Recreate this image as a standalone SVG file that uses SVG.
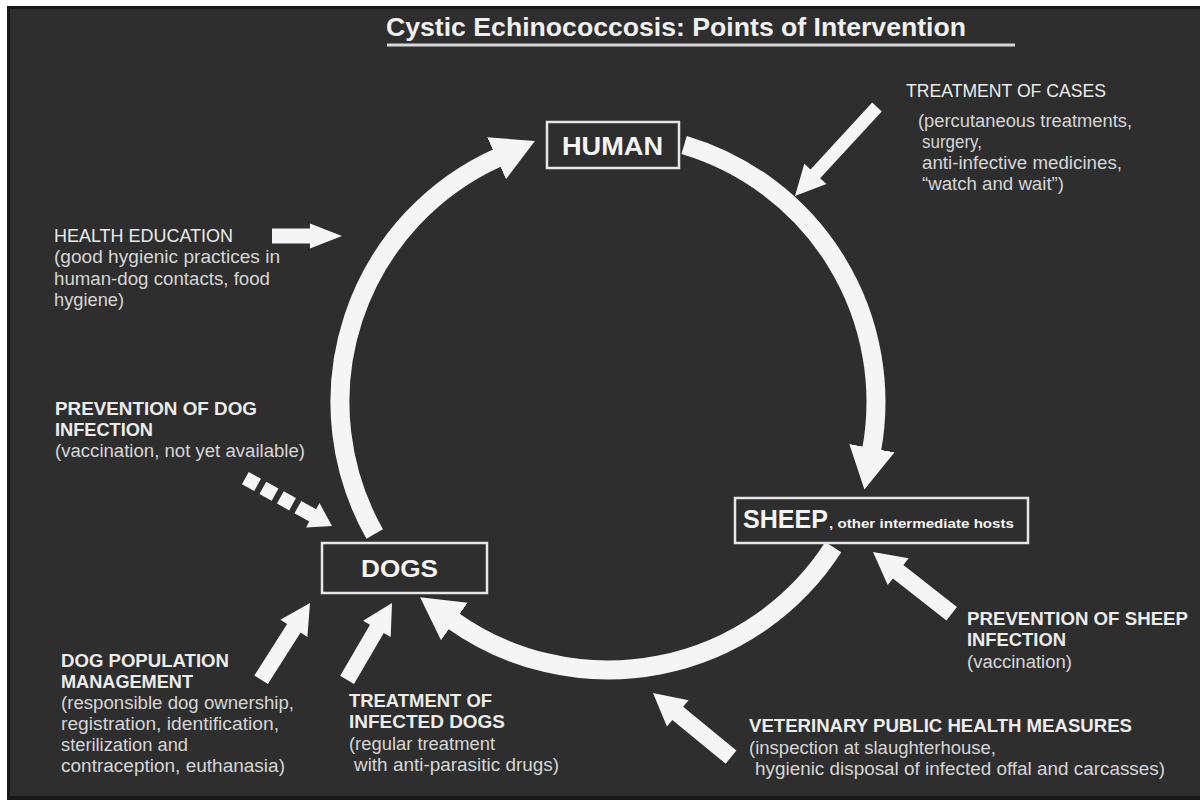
<svg xmlns="http://www.w3.org/2000/svg" width="1200" height="800" viewBox="0 0 1200 800">
<defs>
<style>
text{font-family:"Liberation Sans",Arial,sans-serif}
.t{font-size:26px;font-weight:bold;fill:#f0f0f0}
.n{font-weight:bold;fill:#f4f4f4}
.h{font-size:18px;font-weight:bold;fill:#ececec}
.h2{font-size:18px;fill:#ececec}
.b{font-size:18px;fill:#d6d6d6}
.box{fill:none;stroke:#e6e6e6;stroke-width:2.5}
.arc{fill:none;stroke:#f5f5f5;stroke-width:19}
.ar{fill:#f5f5f5}
</style>
<marker id="ah" markerUnits="userSpaceOnUse" markerWidth="46" markerHeight="50" viewBox="0 -25 46 50" refX="2" refY="0" orient="auto">
<path d="M0,-23 L42,0 L0,23 Z" fill="#f5f5f5"/>
</marker>
</defs>
<rect x="0" y="0" width="1200" height="800" fill="#ffffff"/>
<rect x="7" y="6" width="1193" height="794" fill="#181818"/>
<rect x="10" y="9" width="1190" height="787" fill="#2e2e2e"/>

<g id="title">
<text class="t" x="386" y="36" textLength="580" lengthAdjust="spacingAndGlyphs">Cystic Echinococcosis: Points of Intervention</text>
<rect x="387" y="43.5" width="628" height="3" fill="#d8d8d8"/>
</g>

<g id="connectors">
<path class="arc" d="M 374.7 534 A 268 268 0 0 1 498.4 157.4" marker-end="url(#ah)"/>
<path class="arc" d="M 684.1 145 A 268 268 0 0 1 871.6 450.2" marker-end="url(#ah)"/>
<path class="arc" d="M 833.3 547.2 A 268 268 0 0 1 452.7 620.4" marker-end="url(#ah)"/>
<polygon class="ar" points="0,0 -30,-15 -30,-6.5 -121,-6.5 -121,6.5 -30,6.5 -30,15" transform="translate(795,196) rotate(132.65)"/>
<polygon class="ar" points="0,0 -32,-12.5 -32,-7.5 -70,-7.5 -70,7.5 -32,7.5 -32,12.5" transform="translate(342,236)"/>
<g transform="translate(332,526) rotate(28.9)">
<line x1="-99" y1="0" x2="-21" y2="0" stroke="#f5f5f5" stroke-width="14" stroke-dasharray="14 6 14 6 14 6 20"/>
<polygon class="ar" points="0,0 -22,-14 -22,14"/>
</g>
<polygon class="ar" points="0,0 -32,-17 -32,-8.5 -100,-8.5 -100,8.5 -32,8.5 -32,17" transform="translate(873,552) rotate(-141.9)"/>
<polygon class="ar" points="0,0 -32,-17 -32,-8.5 -101,-8.5 -101,8.5 -32,8.5 -32,17" transform="translate(653,693) rotate(-140.6)"/>
<polygon class="ar" points="0,0 -30,-16 -30,-8 -91,-8 -91,8 -30,8 -30,16" transform="translate(310,603) rotate(-57.5)"/>
<polygon class="ar" points="0,0 -30,-16 -30,-8 -89,-8 -89,8 -30,8 -30,16" transform="translate(392,603) rotate(-59.7)"/>
</g>

<g id="human">
<rect class="box" x="547" y="122" width="132" height="46"/>
<text class="n" x="562" y="155" font-size="26" textLength="101" lengthAdjust="spacingAndGlyphs">HUMAN</text>
</g>

<g id="sheep">
<rect class="box" x="735" y="498" width="293" height="45"/>
<text class="n" x="743" y="528" font-size="25" textLength="85" lengthAdjust="spacingAndGlyphs">SHEEP</text>
<text class="n" x="829" y="528" font-size="13.5" textLength="185" lengthAdjust="spacingAndGlyphs">, other intermediate hosts</text>
</g>

<g id="dogs">
<rect class="box" x="322" y="543" width="165" height="50"/>
<text class="n" x="361" y="577" font-size="23" textLength="77" lengthAdjust="spacingAndGlyphs">DOGS</text>
</g>

<g id="treatment-of-cases">
<text class="h2" x="906" y="97" textLength="200" lengthAdjust="spacingAndGlyphs">TREATMENT OF CASES</text>
<text class="b" x="918" y="127" textLength="214" lengthAdjust="spacingAndGlyphs">(percutaneous treatments,</text>
<text class="b" x="922" y="148" textLength="60" lengthAdjust="spacingAndGlyphs">surgery,</text>
<text class="b" x="922" y="169" textLength="200" lengthAdjust="spacingAndGlyphs">anti-infective medicines,</text>
<text class="b" x="922" y="190" textLength="142" lengthAdjust="spacingAndGlyphs">“watch and wait”)</text>
</g>

<g id="health-education">
<text class="h2" x="54" y="242" textLength="179" lengthAdjust="spacingAndGlyphs">HEALTH EDUCATION</text>
<text class="b" x="54" y="263" textLength="226" lengthAdjust="spacingAndGlyphs">(good hygienic practices in</text>
<text class="b" x="54" y="285" textLength="216" lengthAdjust="spacingAndGlyphs">human-dog contacts, food</text>
<text class="b" x="54" y="306" textLength="70" lengthAdjust="spacingAndGlyphs">hygiene)</text>
</g>

<g id="prevention-dog">
<text class="h" x="55" y="415" textLength="202" lengthAdjust="spacingAndGlyphs">PREVENTION OF DOG</text>
<text class="h" x="55" y="436" textLength="98" lengthAdjust="spacingAndGlyphs">INFECTION</text>
<text class="b" x="55" y="457" textLength="250" lengthAdjust="spacingAndGlyphs">(vaccination, not yet available)</text>
</g>

<g id="dog-population">
<text class="h" x="61" y="667" textLength="168" lengthAdjust="spacingAndGlyphs">DOG POPULATION</text>
<text class="h" x="61" y="688" textLength="132" lengthAdjust="spacingAndGlyphs">MANAGEMENT</text>
<text class="b" x="61" y="709" textLength="233" lengthAdjust="spacingAndGlyphs">(responsible dog ownership,</text>
<text class="b" x="61" y="730" textLength="218" lengthAdjust="spacingAndGlyphs">registration, identification,</text>
<text class="b" x="61" y="751" textLength="127" lengthAdjust="spacingAndGlyphs">sterilization and</text>
<text class="b" x="61" y="772" textLength="224" lengthAdjust="spacingAndGlyphs">contraception, euthanasia)</text>
</g>

<g id="treatment-dogs">
<text class="h" x="349" y="707" textLength="143" lengthAdjust="spacingAndGlyphs">TREATMENT OF</text>
<text class="h" x="349" y="728" textLength="156" lengthAdjust="spacingAndGlyphs">INFECTED DOGS</text>
<text class="b" x="349" y="750" textLength="146" lengthAdjust="spacingAndGlyphs">(regular treatment</text>
<text class="b" x="354" y="771" textLength="205" lengthAdjust="spacingAndGlyphs">with anti-parasitic drugs)</text>
</g>

<g id="prevention-sheep">
<text class="h" x="967" y="625" textLength="221" lengthAdjust="spacingAndGlyphs">PREVENTION OF SHEEP</text>
<text class="h" x="967" y="646" textLength="99" lengthAdjust="spacingAndGlyphs">INFECTION</text>
<text class="b" x="967" y="668" textLength="105" lengthAdjust="spacingAndGlyphs">(vaccination)</text>
</g>

<g id="veterinary">
<text class="h" x="749" y="732" textLength="383" lengthAdjust="spacingAndGlyphs">VETERINARY PUBLIC HEALTH MEASURES</text>
<text class="b" x="749" y="754" textLength="247" lengthAdjust="spacingAndGlyphs">(inspection at slaughterhouse,</text>
<text class="b" x="755" y="775" textLength="410" lengthAdjust="spacingAndGlyphs">hygienic disposal of infected offal and carcasses)</text>
</g>
</svg>
